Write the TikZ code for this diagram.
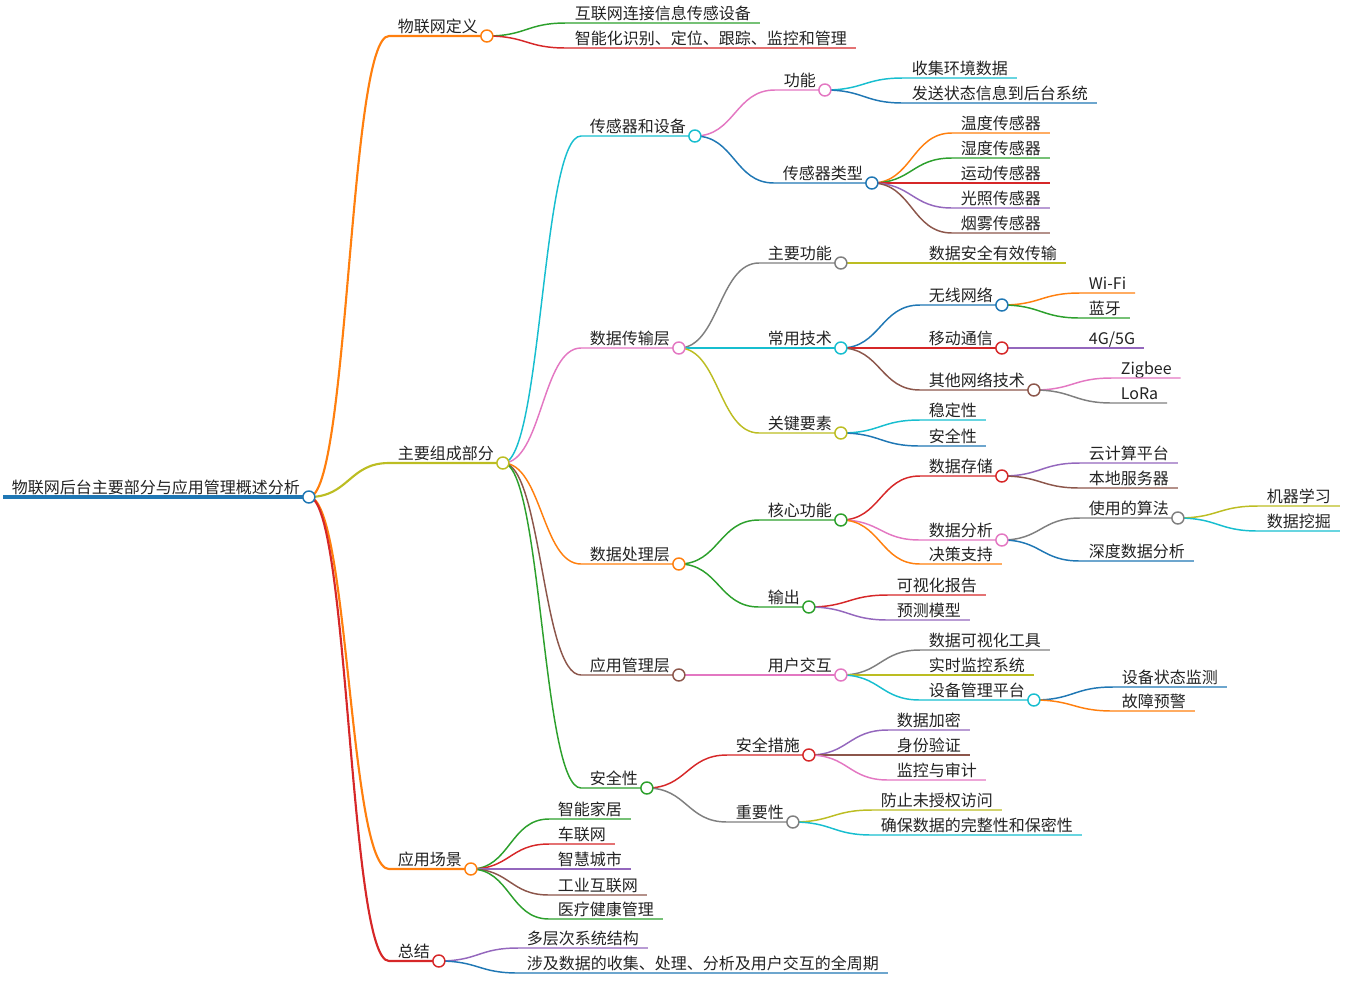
\documentclass[tikz,border=0pt]{standalone}
\usepackage{fontspec}
\newfontfamily\cjkfont{Noto Sans CJK SC}
\usetikzlibrary{calc}
\definecolor{mmblue}{HTML}{1F77B4}
\definecolor{mmorange}{HTML}{FF7F0E}
\definecolor{mmgreen}{HTML}{2CA02C}
\definecolor{mmred}{HTML}{D62728}
\definecolor{mmpurple}{HTML}{9467BD}
\definecolor{mmbrown}{HTML}{8C564B}
\definecolor{mmpink}{HTML}{E377C2}
\definecolor{mmgray}{HTML}{7F7F7F}
\definecolor{mmolive}{HTML}{BCBD22}
\definecolor{mmcyan}{HTML}{17BECF}
\definecolor{ink}{HTML}{222222}
\tikzstyle{topic}=[anchor=south west, inner xsep=6.5pt, inner ysep=2.5pt, text depth=0pt, text=ink, font=\cjkfont\fontsize{12}{14}\selectfont]
\tikzstyle{knob}=[circle, fill=white, line width=1.1pt, minimum size=9pt, inner sep=0pt]
\tikzstyle{lvone}=[line width=1.6pt]
\tikzstyle{lvtwo}=[line width=1.1pt]
\tikzstyle{curvelink}=[to path={let \p1=(\tikztostart), \p2=(\tikztotarget) in .. controls ({(\x1+\x2)/2},\y1) and ({(\x1+\x2)/2},\y2) .. (\tikztotarget)}]

\begin{document}
\begin{tikzpicture}[x=0.75pt, y=-0.75pt]
    \useasboundingbox (0,0) rectangle (1346,1004);

    \node[topic] (root) at (3,497) {物联网后台主要部分与应用管理概述分析};
    \node[topic] (def) at (389,36) {物联网定义};
    \node[topic] (def-a) at (566,23) {互联网连接信息传感设备};
    \node[topic] (def-b) at (566,48) {智能化识别、定位、跟踪、监控和管理};
    \node[topic] (parts) at (389,463) {主要组成部分};
    \node[topic] (sensor) at (581,136) {传感器和设备};
    \node[topic] (func) at (775,90) {功能};
    \node[topic] (func-a) at (903,78) {收集环境数据};
    \node[topic] (func-b) at (903,103) {发送状态信息到后台系统};
    \node[topic] (stype) at (774,183) {传感器类型};
    \node[topic] (stype-a) at (952,133) {温度传感器};
    \node[topic] (stype-b) at (952,158) {湿度传感器};
    \node[topic] (stype-c) at (952,183) {运动传感器};
    \node[topic] (stype-d) at (952,208) {光照传感器};
    \node[topic] (stype-e) at (952,233) {烟雾传感器};
    \node[topic] (trans) at (581,348) {数据传输层};
    \node[topic] (tmain) at (759,263) {主要功能};
    \node[topic] (tmain-a) at (920,263) {数据安全有效传输};
    \node[topic] (ttech) at (759,348) {常用技术};
    \node[topic] (wless) at (920,305) {无线网络};
    \node[topic] (wless-a) at (1080,293) {Wi-Fi};
    \node[topic] (wless-b) at (1080,318) {蓝牙};
    \node[topic] (mobile) at (920,348) {移动通信};
    \node[topic] (mobile-a) at (1080,348) {4G/5G};
    \node[topic] (other) at (920,390) {其他网络技术};
    \node[topic] (other-a) at (1112,378) {Zigbee};
    \node[topic] (other-b) at (1112,403) {LoRa};
    \node[topic] (tkey) at (759,433) {关键要素};
    \node[topic] (tkey-a) at (920,420) {稳定性};
    \node[topic] (tkey-b) at (920,446) {安全性};
    \node[topic] (proc) at (581,564) {数据处理层};
    \node[topic] (core) at (759,520) {核心功能};
    \node[topic] (store) at (920,476) {数据存储};
    \node[topic] (store-a) at (1080,463) {云计算平台};
    \node[topic] (store-b) at (1080,488) {本地服务器};
    \node[topic] (anal) at (920,540) {数据分析};
    \node[topic] (algo) at (1080,518) {使用的算法};
    \node[topic] (algo-a) at (1258,506) {机器学习};
    \node[topic] (algo-b) at (1258,531) {数据挖掘};
    \node[topic] (deep) at (1080,561) {深度数据分析};
    \node[topic] (decide) at (920,564) {决策支持};
    \node[topic] (out) at (759,607) {输出};
    \node[topic] (out-a) at (888,595) {可视化报告};
    \node[topic] (out-b) at (888,620) {预测模型};
    \node[topic] (app) at (581,675) {应用管理层};
    \node[topic] (ui) at (759,675) {用户交互};
    \node[topic] (ui-a) at (920,650) {数据可视化工具};
    \node[topic] (ui-b) at (920,675) {实时监控系统};
    \node[topic] (dev) at (920,700) {设备管理平台};
    \node[topic] (dev-a) at (1113,687) {设备状态监测};
    \node[topic] (dev-b) at (1113,711) {故障预警};
    \node[topic] (sec) at (581,788) {安全性};
    \node[topic] (meas) at (727,755) {安全措施};
    \node[topic] (meas-a) at (888,730) {数据加密};
    \node[topic] (meas-b) at (888,755) {身份验证};
    \node[topic] (meas-c) at (888,780) {监控与审计};
    \node[topic] (imp) at (727,822) {重要性};
    \node[topic] (imp-a) at (872,810) {防止未授权访问};
    \node[topic] (imp-b) at (872,835) {确保数据的完整性和保密性};
    \node[topic] (scene) at (389,869) {应用场景};
    \node[topic] (scene-a) at (549,819) {智能家居};
    \node[topic] (scene-b) at (549,844) {车联网};
    \node[topic] (scene-c) at (549,869) {智慧城市};
    \node[topic] (scene-d) at (549,895) {工业互联网};
    \node[topic] (scene-e) at (549,919) {医疗健康管理};
    \node[topic] (sum) at (389,961) {总结};
    \node[topic] (sum-a) at (518,948) {多层次系统结构};
    \node[topic] (sum-b) at (518,973) {涉及数据的收集、处理、分析及用户交互的全周期};

    \draw[mmblue, line width=3.2pt] (root.south west) -- (root.south east);

    \draw[lvone, mmorange] (root.south east) to[curvelink] (def.south west) -- (def.south east);
    \draw[lvone, mmolive] (root.south east) to[curvelink] (parts.south west) -- (parts.south east);
    \draw[lvone, mmorange] (root.south east) to[curvelink] (scene.south west) -- (scene.south east);
    \draw[lvone, mmred] (root.south east) to[curvelink] (sum.south west) -- (sum.south east);

    \draw[lvtwo, mmgreen] (def.south east) to[curvelink] (def-a.south west) -- (def-a.south east);
    \draw[lvtwo, mmred] (def.south east) to[curvelink] (def-b.south west) -- (def-b.south east);

    \draw[lvtwo, mmcyan] (parts.south east) to[curvelink] (sensor.south west) -- (sensor.south east);
    \draw[lvtwo, mmpink] (parts.south east) to[curvelink] (trans.south west) -- (trans.south east);
    \draw[lvtwo, mmorange] (parts.south east) to[curvelink] (proc.south west) -- (proc.south east);
    \draw[lvtwo, mmbrown] (parts.south east) to[curvelink] (app.south west) -- (app.south east);
    \draw[lvtwo, mmgreen] (parts.south east) to[curvelink] (sec.south west) -- (sec.south east);

    \draw[lvtwo, mmpink] (sensor.south east) to[curvelink] (func.south west) -- (func.south east);
    \draw[lvtwo, mmblue] (sensor.south east) to[curvelink] (stype.south west) -- (stype.south east);
    \draw[lvtwo, mmcyan] (func.south east) to[curvelink] (func-a.south west) -- (func-a.south east);
    \draw[lvtwo, mmblue] (func.south east) to[curvelink] (func-b.south west) -- (func-b.south east);
    \draw[lvtwo, mmorange] (stype.south east) to[curvelink] (stype-a.south west) -- (stype-a.south east);
    \draw[lvtwo, mmgreen] (stype.south east) to[curvelink] (stype-b.south west) -- (stype-b.south east);
    \draw[lvtwo, mmred] (stype.south east) to[curvelink] (stype-c.south west) -- (stype-c.south east);
    \draw[lvtwo, mmpurple] (stype.south east) to[curvelink] (stype-d.south west) -- (stype-d.south east);
    \draw[lvtwo, mmbrown] (stype.south east) to[curvelink] (stype-e.south west) -- (stype-e.south east);

    \draw[lvtwo, mmgray] (trans.south east) to[curvelink] (tmain.south west) -- (tmain.south east);
    \draw[lvtwo, mmcyan] (trans.south east) to[curvelink] (ttech.south west) -- (ttech.south east);
    \draw[lvtwo, mmolive] (trans.south east) to[curvelink] (tkey.south west) -- (tkey.south east);
    \draw[lvtwo, mmolive] (tmain.south east) to[curvelink] (tmain-a.south west) -- (tmain-a.south east);
    \draw[lvtwo, mmblue] (ttech.south east) to[curvelink] (wless.south west) -- (wless.south east);
    \draw[lvtwo, mmred] (ttech.south east) to[curvelink] (mobile.south west) -- (mobile.south east);
    \draw[lvtwo, mmbrown] (ttech.south east) to[curvelink] (other.south west) -- (other.south east);
    \draw[lvtwo, mmorange] (wless.south east) to[curvelink] (wless-a.south west) -- (wless-a.south east);
    \draw[lvtwo, mmgreen] (wless.south east) to[curvelink] (wless-b.south west) -- (wless-b.south east);
    \draw[lvtwo, mmpurple] (mobile.south east) to[curvelink] (mobile-a.south west) -- (mobile-a.south east);
    \draw[lvtwo, mmpink] (other.south east) to[curvelink] (other-a.south west) -- (other-a.south east);
    \draw[lvtwo, mmgray] (other.south east) to[curvelink] (other-b.south west) -- (other-b.south east);
    \draw[lvtwo, mmcyan] (tkey.south east) to[curvelink] (tkey-a.south west) -- (tkey-a.south east);
    \draw[lvtwo, mmblue] (tkey.south east) to[curvelink] (tkey-b.south west) -- (tkey-b.south east);

    \draw[lvtwo, mmgreen] (proc.south east) to[curvelink] (core.south west) -- (core.south east);
    \draw[lvtwo, mmgreen] (proc.south east) to[curvelink] (out.south west) -- (out.south east);
    \draw[lvtwo, mmred] (core.south east) to[curvelink] (store.south west) -- (store.south east);
    \draw[lvtwo, mmpink] (core.south east) to[curvelink] (anal.south west) -- (anal.south east);
    \draw[lvtwo, mmorange] (core.south east) to[curvelink] (decide.south west) -- (decide.south east);
    \draw[lvtwo, mmpurple] (store.south east) to[curvelink] (store-a.south west) -- (store-a.south east);
    \draw[lvtwo, mmbrown] (store.south east) to[curvelink] (store-b.south west) -- (store-b.south east);
    \draw[lvtwo, mmgray] (anal.south east) to[curvelink] (algo.south west) -- (algo.south east);
    \draw[lvtwo, mmblue] (anal.south east) to[curvelink] (deep.south west) -- (deep.south east);
    \draw[lvtwo, mmolive] (algo.south east) to[curvelink] (algo-a.south west) -- (algo-a.south east);
    \draw[lvtwo, mmcyan] (algo.south east) to[curvelink] (algo-b.south west) -- (algo-b.south east);
    \draw[lvtwo, mmred] (out.south east) to[curvelink] (out-a.south west) -- (out-a.south east);
    \draw[lvtwo, mmpurple] (out.south east) to[curvelink] (out-b.south west) -- (out-b.south east);

    \draw[lvtwo, mmpink] (app.south east) to[curvelink] (ui.south west) -- (ui.south east);
    \draw[lvtwo, mmgray] (ui.south east) to[curvelink] (ui-a.south west) -- (ui-a.south east);
    \draw[lvtwo, mmolive] (ui.south east) to[curvelink] (ui-b.south west) -- (ui-b.south east);
    \draw[lvtwo, mmcyan] (ui.south east) to[curvelink] (dev.south west) -- (dev.south east);
    \draw[lvtwo, mmblue] (dev.south east) to[curvelink] (dev-a.south west) -- (dev-a.south east);
    \draw[lvtwo, mmorange] (dev.south east) to[curvelink] (dev-b.south west) -- (dev-b.south east);

    \draw[lvtwo, mmred] (sec.south east) to[curvelink] (meas.south west) -- (meas.south east);
    \draw[lvtwo, mmgray] (sec.south east) to[curvelink] (imp.south west) -- (imp.south east);
    \draw[lvtwo, mmpurple] (meas.south east) to[curvelink] (meas-a.south west) -- (meas-a.south east);
    \draw[lvtwo, mmbrown] (meas.south east) to[curvelink] (meas-b.south west) -- (meas-b.south east);
    \draw[lvtwo, mmpink] (meas.south east) to[curvelink] (meas-c.south west) -- (meas-c.south east);
    \draw[lvtwo, mmolive] (imp.south east) to[curvelink] (imp-a.south west) -- (imp-a.south east);
    \draw[lvtwo, mmcyan] (imp.south east) to[curvelink] (imp-b.south west) -- (imp-b.south east);

    \draw[lvtwo, mmgreen] (scene.south east) to[curvelink] (scene-a.south west) -- (scene-a.south east);
    \draw[lvtwo, mmred] (scene.south east) to[curvelink] (scene-b.south west) -- (scene-b.south east);
    \draw[lvtwo, mmpurple] (scene.south east) to[curvelink] (scene-c.south west) -- (scene-c.south east);
    \draw[lvtwo, mmbrown] (scene.south east) to[curvelink] (scene-d.south west) -- (scene-d.south east);
    \draw[lvtwo, mmgreen] (scene.south east) to[curvelink] (scene-e.south west) -- (scene-e.south east);
    \draw[lvtwo, mmpurple] (sum.south east) to[curvelink] (sum-a.south west) -- (sum-a.south east);
    \draw[lvtwo, mmblue] (sum.south east) to[curvelink] (sum-b.south west) -- (sum-b.south east);

    \foreach \n/\c in {root/mmblue, def/mmorange, parts/mmolive, scene/mmorange, sum/mmred,
        sensor/mmcyan, trans/mmpink, proc/mmorange, app/mmbrown, sec/mmgreen,
        func/mmpink, stype/mmblue, tmain/mmgray, ttech/mmcyan, tkey/mmolive,
        wless/mmblue, mobile/mmred, other/mmbrown, core/mmgreen, out/mmgreen,
        store/mmred, anal/mmpink, algo/mmgray, ui/mmpink, dev/mmcyan,
        meas/mmred, imp/mmgray}
        \node[knob, draw=\c] (\n-knob) at (\n.south east) {};
\end{tikzpicture}
\end{document}
